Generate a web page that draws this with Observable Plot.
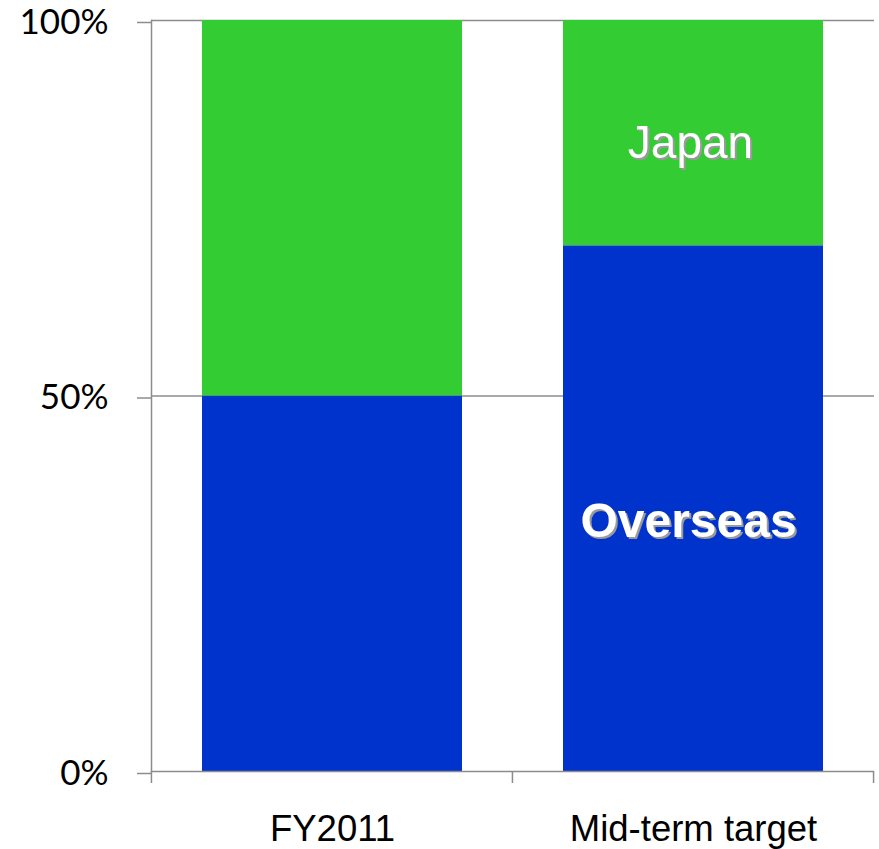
<!DOCTYPE html>
<html><head><meta charset="utf-8">
<script src="https://cdn.jsdelivr.net/npm/d3@7"></script>
<script src="https://cdn.jsdelivr.net/npm/@observablehq/plot@0.6"></script>
<style>body{margin:0;background:#fff}</style>
</head><body><div id="chart"></div>
<script>
const categories = ["FY2011", "Mid-term target"];
const series = ["Overseas", "Japan"];
const seriesColors = ["#0033CC", "#33CC33"];
const overseasShare = [50, 70];
const japanShare = [50, 30];
const yTicks = [0, 50, 100];
const gridTicks = [50, 100];
const labelCategory = "Mid-term target";

const rows = [];
categories.forEach((c, i) => {
  rows.push({category: c, series: "Overseas", value: overseasShare[i]});
  rows.push({category: c, series: "Japan", value: japanShare[i]});
});
const li = categories.indexOf(labelCategory);
const overseasLabel = [{category: labelCategory, text: "Overseas", y: overseasShare[li] / 2}];
const japanLabel = [{category: labelCategory, text: "Japan", y: overseasShare[li] + japanShare[li] / 2}];

const GRAY = "#8c8c8c";
const padInner = 0.28;
const FONT = "Liberation Sans, Arial, sans-serif";

const plot = Plot.plot({
  width: 879,
  height: 849,
  marginLeft: 151,
  marginRight: 5,
  marginTop: 20,
  marginBottom: 78,
  style: {background: "white", overflow: "visible"},
  x: {domain: categories, paddingInner: padInner, paddingOuter: padInner / 2, label: null},
  y: {domain: [0, 100], label: null},
  color: {domain: series, range: seriesColors},
  marks: [
    Plot.gridY(gridTicks, {stroke: GRAY, strokeOpacity: 1, strokeWidth: 1.5}),
    Plot.barY(rows, {x: "category", y: "value", fill: "series", order: series}),
    Plot.ruleY([0], {stroke: GRAY, strokeWidth: 1.5}),
    Plot.frame({anchor: "left", stroke: GRAY, strokeWidth: 1.5}),
    Plot.axisY(yTicks, {tickSize: 14, tickPadding: 29, stroke: GRAY, strokeWidth: 1.5, dy: 2,
      tickFormat: d => d + "%", fontSize: 35, fontFamily: "Lato, sans-serif", fill: "black", label: null}),
    Plot.axisX({tickSize: 0, tickPadding: 44, fontSize: 36.5, fontFamily: FONT, fill: "black", label: null}),
    Plot.text(japanLabel, {x: "category", y: "y", text: "text", fill: "white", dx: -3, dy: 10,
      fontSize: 46, fontWeight: "normal", fontFamily: FONT}),
    Plot.text(overseasLabel, {x: "category", y: "y", text: "text", fill: "white", dx: -5, dy: 13,
      fontSize: 48, fontWeight: "bold", fontFamily: FONT})
  ]
});

// band-boundary ticks on the x axis, positioned from the x scale
const xs = plot.scale("x");
const ys = plot.scale("y");
const bw = xs.bandwidth;
const step = bw / (1 - padInner);
const y0 = ys.apply(0);
const bounds = categories.map(c => xs.apply(c) - step * padInner / 2);
bounds.push(xs.apply(categories[categories.length - 1]) + bw + step * padInner / 2);
const svg = d3.select(plot);
svg.append("g").selectAll("line").data(bounds).join("line")
  .attr("x1", d => d).attr("x2", d => d)
  .attr("y1", y0).attr("y2", y0 + 12)
  .attr("stroke", GRAY).attr("stroke-width", 1.5);
// gray drop shadow behind the in-bar labels
svg.selectAll('g[aria-label="text"]').style("filter", "drop-shadow(2.5px 2.5px 0px #9a9a9a)");
document.getElementById("chart").append(plot);
</script>
</body></html>
